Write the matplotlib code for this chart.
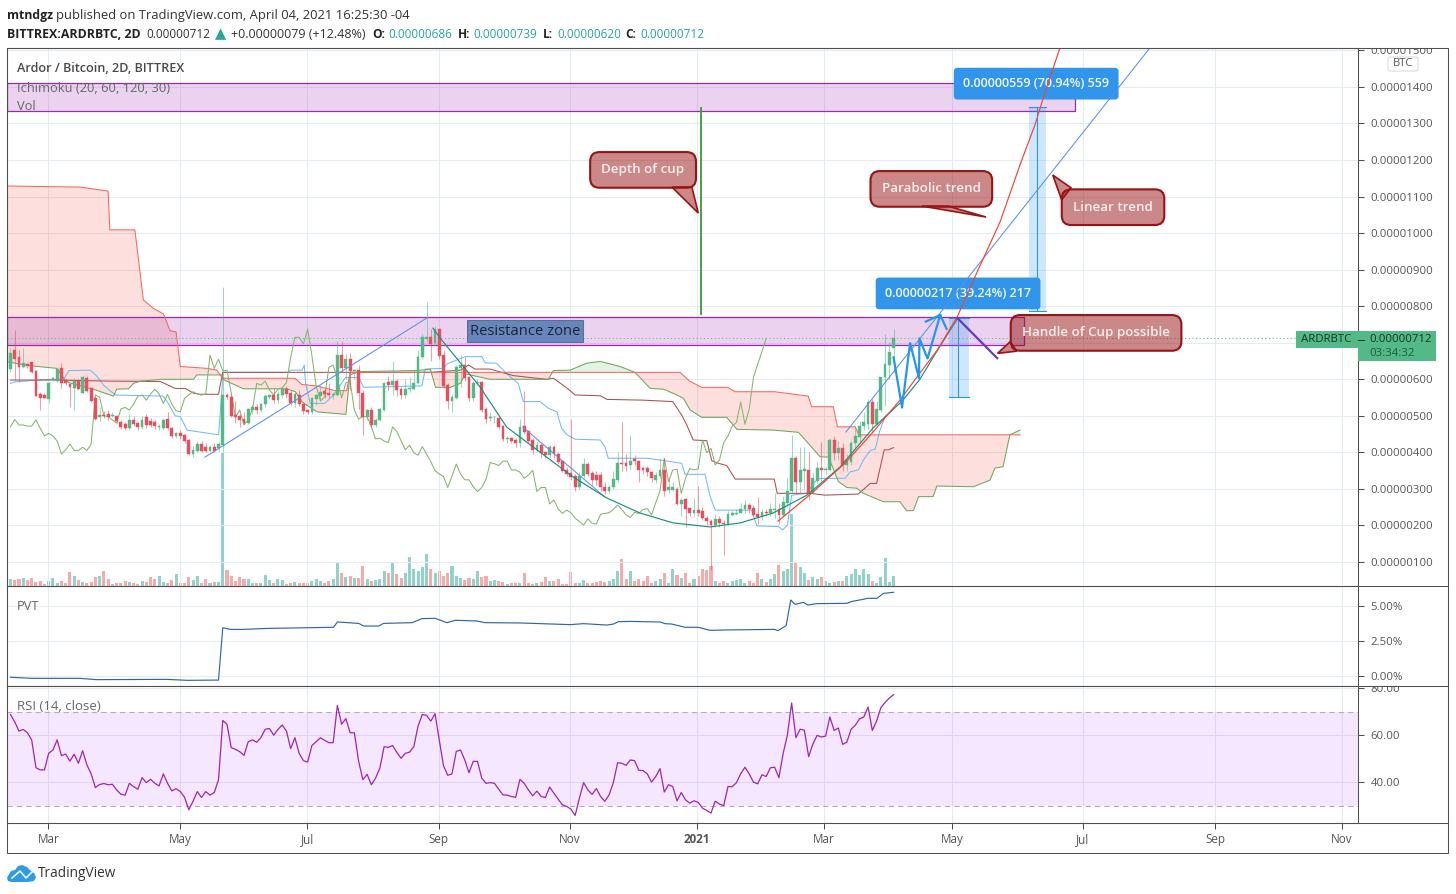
import numpy as np
import matplotlib
matplotlib.use("Agg")
import matplotlib.pyplot as plt
from matplotlib.patches import Rectangle, Polygon, FancyBboxPatch
from matplotlib.lines import Line2D
from matplotlib.transforms import Bbox, TransformedBbox

plt.rcParams['font.family'] = ['Open Sans', 'DejaVu Sans']

W, H = 1456, 894

# candles, in satoshi (1e-8 BTC), one bar every 2 days
opens = [628,680,660,635,642,646,623,560,557,547,
         598,595,630,598,587,575,596,563,603,575,
         548,498,501,504,499,500,483,478,467,489,
         480,470,496,486,484,470,466,491,466,445,
         452,448,434,396,403,423,414,405,414,411,
         420,557,551,502,500,491,481,516,523,516,
         532,552,557,543,557,573,562,534,557,532,
         516,511,545,554,569,562,557,557,666,630,
         655,623,625,563,496,516,475,490,516,594,
         584,595,573,557,573,574,591,660,709,715,
         698,737,666,584,541,549,630,639,605,549,
         591,592,518,493,496,495,472,437,439,434,
         425,472,459,434,407,420,401,392,416,396,
         376,352,343,336,304,335,368,343,338,338,
         306,293,304,325,372,370,366,381,376,356,
         356,346,325,336,351,297,297,300,259,272,
         247,235,242,241,221,213,200,218,208,204,
         230,232,233,244,256,247,231,224,236,233,
         242,244,229,261,295,384,320,350,352,288,
         322,356,352,352,434,399,411,366,375,427,
         443,472,477,538,478,516,605,639,686]
closes = [671,655,635,644,636,621,554,550,550,589,
          603,627,589,589,578,595,573,605,569,542,
          492,503,500,498,501,487,470,467,489,478,
          470,490,475,475,472,472,489,466,445,452,
          445,431,396,407,423,405,405,414,405,423,
          557,551,500,498,489,480,519,523,516,532,
          554,557,543,560,573,560,534,559,532,514,
          511,548,557,566,560,557,560,666,630,655,
          623,625,563,496,516,475,490,518,589,584,
          595,571,557,573,577,591,660,715,715,697,
          737,664,582,541,551,633,639,603,549,591,
          594,516,491,498,498,470,437,439,431,427,
          470,457,432,407,420,399,392,416,395,375,
          350,341,334,304,335,368,341,325,325,306,
          293,304,326,372,369,364,376,376,352,352,
          346,329,338,351,293,304,304,259,270,245,
          233,242,235,220,211,201,218,206,204,231,
          233,235,244,256,244,229,222,236,233,244,
          246,229,263,295,384,320,352,354,288,329,
          356,352,355,434,399,411,366,379,427,445,
          472,482,538,477,518,605,641,676,712]
highs = [685,735,680,685,644,648,625,566,562,594,
         606,630,644,600,589,603,600,608,610,577,
         552,525,512,515,510,503,490,482,505,500,
         484,500,505,495,490,478,495,510,470,456,
         460,450,438,418,430,430,425,420,425,428,
         853,562,556,540,505,510,522,530,532,535,
         560,560,575,568,580,582,570,565,570,538,
         520,552,560,585,575,590,566,706,706,670,
         673,628,640,570,520,525,495,522,592,610,
         650,600,580,600,605,625,680,725,812,737,
         745,740,680,590,560,640,666,660,610,595,
         600,595,525,510,500,498,475,445,442,440,
         491,568,462,440,432,425,405,420,420,400,
         380,360,491,340,345,385,375,350,348,345,
         320,310,350,400,484,395,448,392,380,360,
         362,350,345,384,384,330,320,305,275,274,
         240,274,308,250,225,218,232,225,215,240,
         240,245,262,270,262,255,277,245,245,262,
         290,262,280,330,448,390,414,414,400,345,
         375,429,360,440,445,430,425,395,432,470,
         485,510,545,545,540,606,723,703,739]
lows = [620,598,594,630,632,618,553,516,548,536,
        595,594,575,585,523,516,570,560,565,538,
        490,487,495,490,497,480,465,462,460,472,
        462,465,468,470,465,462,460,460,440,440,
        438,425,393,388,400,400,400,405,400,405,
        402,545,498,480,470,478,478,505,505,510,
        525,545,535,535,550,550,530,525,528,505,
        505,505,530,540,550,548,545,555,620,600,
        570,600,520,448,490,470,470,485,512,570,
        557,555,545,550,565,570,588,655,703,650,
        690,655,575,520,510,545,578,595,540,540,
        585,510,480,485,480,465,430,425,425,415,
        415,450,425,395,405,385,385,385,385,368,
        345,335,325,295,300,330,335,310,310,295,
        285,290,300,320,350,350,355,365,320,340,
        335,320,315,330,280,290,295,255,225,197,
        225,225,225,215,200,78,195,195,119,200,
        225,230,235,235,235,225,205,215,225,225,
        220,205,225,250,290,288,288,300,270,285,
        315,320,340,350,380,380,350,350,365,410,
        425,460,465,455,475,510,527,600,620]
volumes = [20,18,20,24,18,23,13,14,6,14,24,10,14,10,42,30,18,12,9,12,
           26,30,44,22,6,8,10,14,12,10,7,14,12,28,22,30,12,8,17,36,
           9,9,26,17,30,8,20,10,12,11,
           400,48,30,14,28,22,22,8,10,10,32,18,10,22,18,6,10,12,8,8,
           10,16,22,14,8,14,20,70,40,26,30,24,24,60,20,14,18,20,46,40,
           70,36,24,40,88,52,44,58,95,50,40,46,
           30,40,60,30,24,18,24,20,46,26,30,15,18,14,12,6,8,8,10,38,
           8,6,10,12,28,14,16,20,6,5,42,8,10,18,10,10,12,14,12,16,
           20,45,80,20,46,14,20,14,30,8,14,22,38,10,50,34,24,38,10,22,
           30,50,48,60,14,10,14,8,16,18,20,8,14,10,38,20,12,22,36,62,
           46,50,215,68,56,38,18,28,20,28,16,10,12,14,16,30,36,50,32,52,
           36,14,8,28,84,12,30]
rsi = [68.7,65.6,61.7,62.4,61.0,57.9,46.2,45.3,45.3,52.3,
       53.7,58.0,51.3,52.0,49.0,51.9,48.1,53.4,47.4,43.6,
       37.8,39.1,39.5,39.0,39.2,36.8,35.0,34.6,39.6,38.2,
       37.1,42.0,39.9,41.3,39.6,38.5,43.6,39.6,36.4,37.3,
       36.1,33.7,28.4,32.0,36.1,33.6,36.1,34.6,35.7,41.1,
       66.2,64.6,54.7,54.0,53.0,51.4,57.2,58.0,57.0,59.0,
       62.5,62.8,60.0,62.4,64.3,61.7,54.3,58.9,52.3,49.2,
       48.6,55.6,57.2,58.9,57.8,56.8,56.8,72.6,64.6,67.0,
       61.0,61.0,49.0,41.1,43.4,39.0,41.8,46.0,55.1,54.8,
       55.6,52.7,50.2,52.3,52.8,55.1,63.8,68.7,68.4,65.9,
       69.1,57.9,47.0,43.0,43.6,53.1,53.7,49.5,44.1,48.9,
       48.9,41.8,39.6,39.9,39.6,37.1,34.7,34.6,34.0,33.7,
       41.3,39.6,36.8,34.3,36.3,34.0,33.6,38.0,35.4,32.9,
       30.5,29.8,28.7,26.0,33.3,39.9,36.8,34.9,37.4,34.0,
       32.0,34.7,39.9,48.3,48.1,47.2,49.5,49.2,45.1,45.0,
       43.6,40.1,42.5,45.8,35.9,39.0,38.2,32.2,35.7,32.6,
       31.2,32.2,31.5,29.1,28.1,27.0,32.0,30.8,30.2,38.2,
       38.2,39.9,43.6,46.4,43.6,40.1,39.4,43.2,42.5,46.2,
       46.4,42.0,52.3,60.0,73.6,58.9,62.5,62.1,50.9,56.2,
       59.9,59.2,59.6,67.7,62.0,63.0,56.1,57.0,62.5,64.2,
       66.9,67.7,71.9,62.0,65.9,71.6,73.8,75.7,77.1]

# PVT line, percent, at bar numbers
pvt_x = [0,5.4,16.4,20.3,36.8,41.6,49,50,51.8,54.9,60.4,76.1,77,82,83.2,86.7,87.9,94.6,96.9,100,
         102.8,104.8,109.8,111.8,120,131.8,135,140.5,142,143.2,145.9,153,154.2,155.8,158.9,162,164.8,
         168.7,180,180.8,182.7,183.8,184.8,186.8,187.8,189.9,197,198.2,200.9,201.9,204.1,205.6,208]
pvt_y = [-0.09,-0.17,-0.17,-0.26,-0.24,-0.31,-0.29,3.45,3.33,3.33,3.40,3.48,3.86,3.76,3.57,3.57,3.76,3.81,4.10,4.12,
         3.81,3.98,3.93,3.81,3.79,3.67,3.74,3.64,3.71,3.88,3.90,3.86,3.74,3.71,3.48,3.48,3.26,
         3.29,3.33,3.24,3.60,5.43,5.12,5.26,5.07,5.17,5.19,5.33,5.48,5.55,5.55,5.90,5.98]

# ichimoku lines, at bar numbers
conv_x = [0,1.1,9.3,12.5,13.8,18.8,20.3,21.9,24.7,36,37.2,38.8,40,41.6,49,50,50.1,65.5,65.9,68.7,69.2,69.5,
          70.6,74,76.1,78.9,82,83.2,96.9,97.7,102,102.8,107.1,111,111.8,114.5,116.9,119.6,120.8,124.7,126.7,
          128.7,129.8,131,133,138.9,140,140.8,149.9,155.4,158.1,158.9,163.6,164.8,166,174.6,175.8,180.9,181.9,
          183,184,187.5,189.5,190.7,196.6,197.8,199.7,200.9,202.5,203.7,204.8,206,208]
conv_y = [589,593,600,600,624,625,609,584,557,554,534,500,498,461,448,598,619,619,625,625,639,589,
          534,534,557,605,605,578,582,628,630,642,662,662,645,644,615,589,539,539,521,
          511,466,449,436,434,416,384,384,375,370,340,340,279,242,242,199,197,188,
          201,283,288,320,329,329,347,352,379,405,409,461,498,520]
base_x = [0,10.9,23.5,35.3,38.8,41.2,43.1,44.7,49,50,98.9,106,107.9,109.4,113,118.5,126.3,127.9,131.4,133,
          138.9,140.5,149,156,158.1,159.3,160.8,164,165.2,166.8,168.7,170.7,179.9,180.6,188.4,191.9,199.7,
          202.5,204,205.8,206.8,208]
base_y = [598,598,595,594,575,575,562,559,559,619,619,625,639,628,628,610,600,603,573,557,
          555,545,543,539,502,475,434,432,377,370,364,327,327,288,288,283,286,
          315,315,407,407,413]
lead_a_x = [-0.8,4.6,10.9,12.9,13.7,20,24.3,25,27.8,29,30.6,35.7,43.1,43.9,49.8,50,52.6,54.9,65.1,67.1,68.7,72.2,79,
            80,82,95.8,98.9,100.1,103.6,106,107.1,113,126.7,127.9,131.8,135.7,138.9,143.6,147.1,150.7,153.8,157,158.5,
            160.1,162.8,168.7,171.1,179.7,185.6,187.9,190.7,192.7,195,197,199.3,200.9,205.6,209.5,211.1,212.7,213.9,
            217.3,218.2,226.8,230.7,231.9,233.8,235.4,237.8]
lead_a_y = [648,637,630,598,591,571,554,573,574,589,595,600,600,612,612,600,586,574,574,566,538,511,504,
            612,621,624,628,578,578,589,615,600,600,624,625,644,649,635,619,575,573,557,548,
            516,496,496,463,461,455,425,388,387,320,304,302,288,265,265,240,241,279,
            279,308,306,324,357,361,448,461]
lead_b_x = [-0.8,16.4,23,23.4,29.3,31.3,33.7,36,37.6,39,40,46.3,48.6,49.8,50,67,68.6,72,76.5,79.2,80,157.7,160,162.8,
            169,170.7,180,185.9,187.9,188.7,193.8,194.8,199,199.8,237.8]
lead_b_y = [1129,1126,1115,1009,1009,817,794,779,733,730,635,630,625,605,603,603,586,582,569,569,619,619,595,578,
            578,566,566,557,554,525,525,470,470,448,448]

# drawings
zone_top = [1411, 771]
zone_bottom = [1334, 694]
zone_end = [250.8, 238.8]
depth_x = 162.6
depth_y = [779, 1342]
parab_x = [180.8,188.8,196.6,203.2,209.5,213.5,218.3,223,227.7,233.1,237.8,241.3,243.7,247.2]
parab_y = [212,289,371,456,543,606,680,771,894,1031,1187,1296,1386,1507]
cup_x = [99.5,101.2,110.6,116.9,124.7,132.5,140.5,148.3,156.1,164.8,171.9,179.6,187.6,195.4,203.2,210,214.2,218.9,223]
cup_y = [740,713,579,469,401,333,275,234,207,196,207,234,283,360,467,540,600,690,765]
trend_segments = [([45.8, 98.1], [387, 768]), ([120.7, 140], [469, 278]), ([196.8, 268.4], [456, 1507])]
zig_x = [208,210,211.9,214,214.1,216,219,220.5]
zig_y = [660,523,699,603,712,657,776,738]
zig_head_x = [215.6,219]
zig_head_y = [758,776]
handle_x = [223,232.4]
handle_y = [768,658]

callout_text = ['Depth of cup', 'Parabolic trend', 'Linear trend', 'Handle of Cup possible']
callout_x = [149, 216.9, 259.7, 255.7]
callout_y = [1173, 1121, 1071, 727]
tail_x = [[155.8, 162, 160.5], [214.7, 229.8, 220.8], [249.8, 245.5, 247.6], [235.5, 232.5, 237]]
tail_y = [[1126, 1055, 1126], [1074, 1044, 1074], [1124, 1159, 1091], [703, 671, 677]]

tick_bars = [8.9,40,69.9,100.9,131.8,161.7,191.6,221.8,252.6,283.7,313.6]
month_labels = ['Mar','May','Jul','Sep','Nov','2021','Mar','May','Jul','Sep','Nov']
price_ticks = [100,200,300,400,500,600,700,800,900,1000,1100,1200,1300,1400,1500]
pvt_ticks = [0, 2.5, 5]
rsi_ticks = [40, 60, 80]

GREEN = '#53b987'
RED = '#eb4d5c'
GRID = '#e4ecf3'
FRAME = '#4f4f4f'
LABEL = '#555555'
TEAL = '#26a69a'
THIN = 0.75


def box(top, bottom, left=7, right=1358):
    return [left / W, 1 - bottom / H, (right - left) / W, (bottom - top) / H]


def ftext(x, y, s, **kw):
    kw.setdefault('va', 'center')
    kw.setdefault('color', '#222222')
    kw.setdefault('fontsize', 8.6)
    return fig.text(x / W, 1 - (y + 1.5) / H, s, **kw)


def frect(x0, y0, x1, y1, **kw):
    r = Rectangle((x0 / W, 1 - y1 / H), (x1 - x0) / W, (y1 - y0) / H, transform=fig.transFigure, **kw)
    fig.add_artist(r)
    return r


def clip_label(lbl, top_px, bottom_px):
    area = Bbox([[0, 1 - bottom_px / H], [1, 1 - top_px / H]])
    lbl.set_clip_box(TransformedBbox(area, fig.transFigure))
    lbl.set_clip_on(True)


fig = plt.figure(figsize=(W / 100, H / 100), dpi=100, facecolor='white')

bars = np.arange(len(closes))
o = np.array(opens, float)
c = np.array(closes, float)
up = c >= o
xlim = (-0.82, 317.4)

# volume sits on its own axes under the price pane
ax_vol = fig.add_axes(box(48, 586))
ax_vol.bar(bars, volumes, width=0.72, color=np.where(up, '#93d2cb', '#f6abab'), zorder=1)
ax_vol.set_xlim(xlim)
ax_vol.set_ylim(0, 1614)
ax_vol.axis('off')
ax_vol.set_zorder(1)

ax = fig.add_axes(box(48, 586))
ax.set_zorder(2)
ax.patch.set_visible(False)
ax_pvt = fig.add_axes(box(586, 686))
ax_rsi = fig.add_axes(box(686, 823))

for a in (ax, ax_pvt, ax_rsi):
    a.set_xlim(xlim)
    a.set_xticks(tick_bars)
    a.grid(True, color=GRID, lw=THIN)
    a.set_axisbelow(True)
    a.yaxis.tick_right()
    a.tick_params(axis='y', length=4, width=THIN, color=FRAME, labelcolor=LABEL, labelsize=8.2, pad=5)
    a.tick_params(axis='x', length=0, labelbottom=False)
    for s in a.spines.values():
        s.set_color(FRAME)
        s.set_linewidth(THIN)

# price pane, the 700 label lies under the current price tag
ax.set_ylim(34.4, 1506.6)
ax.set_yticks(price_ticks)
ax.set_yticklabels(['' if v == 700 else '%.8f' % (v * 1e-8) for v in price_ticks])

# cloud
grid_x = np.union1d(lead_a_x, lead_b_x)
a_line = np.interp(grid_x, lead_a_x, lead_a_y)
b_line = np.interp(grid_x, lead_b_x, lead_b_y)
ax.fill_between(grid_x, a_line, b_line, where=a_line <= b_line, color='#f44336', alpha=0.17, lw=0, interpolate=True, zorder=2)
ax.fill_between(grid_x, a_line, b_line, where=a_line >= b_line, color='#4caf50', alpha=0.15, lw=0, interpolate=True, zorder=2)

# resistance zones
for top, bot, end in zip(zone_top, zone_bottom, zone_end):
    ax.add_patch(Rectangle((xlim[0], bot), end - xlim[0], top - bot, fc=(0.61, 0.15, 0.69, 0.2),
                           ec='#9c27b0', lw=0.9, zorder=2.5))

ax.plot(conv_x, conv_y, color='#6dbcf7', lw=THIN, zorder=3)
ax.plot(base_x, base_y, color='#a9504f', lw=THIN, zorder=3)
ax.plot(lead_a_x, lead_a_y, color='#6fa75a', lw=THIN, zorder=3)
ax.plot(lead_b_x, lead_b_y, color='#f4685f', lw=THIN, zorder=3)
ax.plot(bars[:-30], closes[30:], color='#86b56d', lw=THIN, zorder=3)

ax.axhline(closes[-1], color=GREEN, lw=THIN, ls=(0, (1, 2.5)), zorder=3)

# candles
colors = np.where(up, GREEN, RED)
ax.vlines(bars, lows, highs, colors=colors, lw=THIN, alpha=0.55, zorder=4)
ax.bar(bars, np.abs(c - o), bottom=np.minimum(o, c), width=0.66, color=colors, edgecolor=colors, lw=0.3, zorder=4.2)

# position boxes
ax.add_patch(Rectangle((221, 552), 4.7, 217, fc='#2196f3', alpha=0.22, lw=0, zorder=4.4))
ax.plot([223.3, 223.3], [552, 769], color='#2196f3', lw=THIN, zorder=4.5)
ax.plot([221, 225.7], [552, 552], color='#2196f3', lw=THIN, zorder=4.5)
ax.plot([221, 225.7], [769, 769], color='#2196f3', lw=THIN, zorder=4.5)
ax.add_patch(Rectangle((239.9, 787), 4, 559, fc='#2196f3', alpha=0.22, lw=0, zorder=4.4))
ax.plot([241.8, 241.8], [787, 1346], color='#2196f3', lw=THIN, zorder=4.5)
ax.plot([239.9, 243.9], [787, 787], color='#2196f3', lw=THIN, zorder=4.5)
ax.plot([239.9, 243.9], [1346, 1346], color='#2196f3', lw=THIN, zorder=4.5)

# the blue measure labels lie under the drawn lines, which show through them
for txt, px, py in [('0.00000217 (39.24%) 217', 223.2, 835), ('0.00000559 (70.94%) 559', 241.6, 1409)]:
    ax.text(px, py, txt, ha='center', va='center', fontsize=9, fontweight='semibold', color='#f3f8fd', zorder=4.8,
            bbox=dict(boxstyle='round,pad=0.75,rounding_size=0.3', fc='#3095eb', ec='none'))

# hand drawn lines
ax.plot([depth_x, depth_x], depth_y, color='#43a047', lw=1.4, zorder=5)
for tx, ty in trend_segments:
    ax.plot(tx, ty, color='#5c8fe6', lw=THIN, zorder=5)
ax.plot(cup_x, cup_y, color='#1e8f7e', lw=0.85, zorder=5)
ax.plot(parab_x, parab_y, color='#f44336', lw=0.85, zorder=5.1)
ax.plot(zig_x, zig_y, color='#2196f3', lw=1.6, zorder=5.2)
ax.plot(zig_head_x, zig_head_y, color='#2196f3', lw=1.6, zorder=5.2)
ax.plot(handle_x, handle_y, color='#673ab7', lw=1.6, zorder=5.2)

# callouts
call_fc = (0.6, 0.07, 0.07, 0.5)
call_ec = '#981313'
for txt, px, py, tx, ty in zip(callout_text, callout_x, callout_y, tail_x, tail_y):
    ax.fill(tx, ty, fc='#cc8888', ec=call_ec, lw=1.2, joinstyle='miter', clip_on=False, zorder=5.8)
    ax.text(px, py, txt, ha='center', va='center', color='#f8eeee', fontsize=9.6, fontweight='semibold', zorder=6,
            bbox=dict(boxstyle='round,pad=0.85,rounding_size=0.7', fc=call_fc, ec=call_ec, lw=1.5))

ax.text(121.2, 732, 'Resistance zone', ha='center', va='center', fontsize=10.6, color='#1c2430', zorder=6,
        bbox=dict(boxstyle='square,pad=0.22', fc='#6686bd', ec='#5f6f8a', lw=THIN))

# PVT pane
ax_pvt.set_ylim(-0.714, 6.43)
ax_pvt.set_yticks(pvt_ticks)
ax_pvt.set_yticklabels(['0.00%', '2.50%', '5.00%'])
ax_pvt.plot(pvt_x, pvt_y, color='#2e67a8', lw=0.85)

# RSI pane
ax_rsi.set_ylim(22.8, 80.8)
ax_rsi.set_yticks(rsi_ticks)
ax_rsi.set_yticklabels(['40.00', '60.00', '80.00'])
ax_rsi.axhspan(30, 70, color='#9915ff', alpha=0.1, lw=0, zorder=1)
ax_rsi.axhline(70, color='#b9a5c4', lw=THIN, ls=(0, (5, 4)), zorder=2)
ax_rsi.axhline(30, color='#b9a5c4', lw=THIN, ls=(0, (5, 4)), zorder=2)
ax_rsi.plot(bars, rsi, color='#9c27b0', lw=0.9, zorder=3)

# time axis
ax_rsi.tick_params(axis='x', length=4, width=THIN, color=FRAME, labelbottom=True, labelcolor=LABEL, labelsize=8.4, pad=3)
ax_rsi.set_xticklabels(month_labels)
for lbl, name in zip(ax_rsi.get_xticklabels(), month_labels):
    if name == '2021':
        lbl.set_fontweight('bold')

# clipped top labels as in the reference
fig.canvas.draw()
clip_label(ax.get_yticklabels()[-1], 48, 586)
clip_label(ax_rsi.get_yticklabels()[-1], 686, 823)

# outer frame
frect(7, 48, 1448, 853, fc='none', ec=FRAME, lw=THIN, zorder=9)
for y in (586, 686, 823):
    fig.add_artist(Line2D([7 / W, 1448 / W], [1 - y / H, 1 - y / H], color=FRAME, lw=THIN, zorder=9))

# legends in the panes
ftext(17, 67, 'Ardor / Bitcoin, 2D, BITTREX', fontweight='semibold', fontsize=9.1, color='#4a4a4a', zorder=10)
ftext(17, 87, 'Ichimoku (20, 60, 120, 30)', color='#666666', fontsize=9.3, zorder=10)
ftext(17, 105, 'Vol', color='#666666', fontsize=9.3, zorder=10)
ftext(17, 605, 'PVT', color='#666666', fontsize=9.3, zorder=10)
ftext(17, 705, 'RSI (14, close)', color='#666666', fontsize=9.5, zorder=10)

# current price tag
frect(1296, 331, 1436, 348, fc=GREEN, ec='none', zorder=10)
frect(1358, 348, 1436, 361, fc=GREEN, ec='none', zorder=10)
ftext(1301, 338.5, 'ARDRBTC', fontsize=8.2, color='#123524', zorder=11)
ftext(1369, 338.5, '0.00000712', fontsize=8.2, color='#123524', zorder=11)
fig.add_artist(Line2D([1358 / W, 1364 / W], [1 - 339.5 / H, 1 - 339.5 / H], color='#123524', lw=THIN, zorder=11))
ftext(1369, 351.5, '03:34:32', fontsize=8.2, color='#1f5a3d', zorder=11)

# currency tag
fig.add_artist(FancyBboxPatch((1388 / W, 1 - 71 / H), 30 / W, 14 / H, boxstyle='round,pad=0,rounding_size=0.002',
                              transform=fig.transFigure, fc='white', ec='#d5d9dd', lw=THIN, zorder=10))
ftext(1403, 62.5, 'BTC', ha='center', fontsize=8, color=LABEL, zorder=11)

# header
ftext(7, 14, 'mtndgz', fontweight='bold', fontsize=8.8)
ftext(56, 14, 'published on TradingView.com, April 04, 2021 16:25:30 -04', fontsize=9.4, color='#333333')
ftext(7, 33, 'BITTREX:ARDRBTC, 2D', fontweight='bold', fontsize=8.9)
ftext(146, 33, '0.00000712', fontsize=8.5, color='#333333')
ftext(215, 32.5, '▲', fontsize=10.5, color=TEAL, family=['DejaVu Sans'])
ftext(231, 33, '+0.00000079 (+12.48%)', fontsize=9, color='#333333')
for x_key, key, x_val, val in [(372, 'O:', 388, '0.00000686'), (458, 'H:', 473, '0.00000739'),
                               (543, 'L:', 557, '0.00000620'), (625, 'C:', 640, '0.00000712')]:
    ftext(x_key, 33, key, fontweight='bold', fontsize=8.6)
    ftext(x_val, 33, val, fontsize=8.5, color=TEAL)

# logo
cloud_x = [8, 11, 15, 18, 22, 27, 31, 34, 36, 34, 28, 11, 8, 7, 8]
cloud_y = [876, 871, 870, 866, 865, 867, 871, 873, 877, 881, 882, 882, 881, 878, 876]
fig.add_artist(Polygon(np.column_stack([np.array(cloud_x) / W, 1 - np.array(cloud_y) / H]), closed=True,
                       transform=fig.transFigure, fc='#2f9be6', ec='none'))
fig.add_artist(Line2D(np.array([12, 20, 26, 32]) / W, 1 - np.array([878, 871, 878, 872]) / H, color='white', lw=1.1))
ftext(38, 872, 'TradingView', fontsize=9.8, color='#333333')

fig.savefig('out.png', dpi=100)
